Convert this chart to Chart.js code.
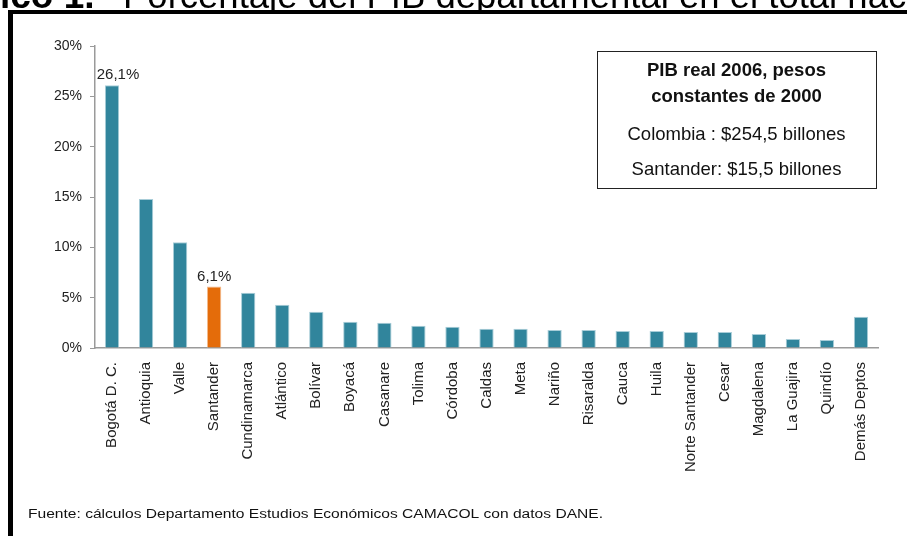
<!DOCTYPE html>
<html lang="es">
<head>
<meta charset="utf-8">
<title>PIB departamental</title>
<script src="https://cdn.jsdelivr.net/npm/chart.js@4/dist/chart.umd.min.js"></script>
<style>
  html, body { margin:0; padding:0; background:#fff; }
  #wrap { position:relative; width:907px; height:536px; overflow:hidden; }
  #chart { position:absolute; left:0; top:0; }
</style>
</head>
<body>
<div id="wrap"><canvas id="chart" width="907" height="536"></canvas></div>
<script>
// ── Participación de cada departamento en el PIB nacional (%) ──
const categories = [
  'Bogotá D. C.','Antioquia','Valle','Santander','Cundinamarca','Atlántico','Bolívar',
  'Boyacá','Casanare','Tolima','Córdoba','Caldas','Meta','Nariño','Risaralda','Cauca',
  'Huila','Norte Santander','Cesar','Magdalena','La Guajira','Quindío','Demás Deptos'
];
const shares = [
  26.1, 14.8, 10.5, 6.1, 5.5, 4.3, 3.6,
  2.6, 2.5, 2.2, 2.1, 1.9, 1.9, 1.8, 1.8, 1.7,
  1.7, 1.6, 1.6, 1.4, 0.9, 0.8, 3.1
];
const highlighted = 'Santander';
const labeledCategories = ['Bogotá D. C.', 'Santander'];
const yMin = 0, yMax = 30, yStep = 5;

const titleBold = 'Gráfico 1.';
const titleRest = 'Porcentaje del PIB departamental en el total nacional';
const boxLines = [
  { text:'PIB real 2006, pesos', bold:true },
  { text:'constantes de 2000', bold:true },
  { text:'Colombia : $254,5 billones', bold:false },
  { text:'Santander: $15,5 billones', bold:false }
];
const sourceNote = 'Fuente: cálculos Departamento Estudios Económicos CAMACOL con datos DANE.';

const TEAL = '#31859C', ORANGE = '#E46C0A';
const FONT = '"Liberation Sans", Arial, sans-serif';
const AXIS = '#9a9a9a';

const pct = v => v.toFixed(1).replace('.', ',') + '%';

// texto de valor sobre las barras destacadas
const valueLabels = {
  id:'valueLabels',
  afterDatasetsDraw(chart) {
    const ctx = chart.ctx;
    const meta = chart.getDatasetMeta(0);
    ctx.save();
    ctx.font = '15px ' + FONT;
    ctx.fillStyle = '#222';
    ctx.textAlign = 'center';
    ctx.textBaseline = 'alphabetic';
    labeledCategories.forEach(name => {
      const i = categories.indexOf(name);
      const bar = meta.data[i];
      ctx.fillText(pct(shares[i]), bar.x + (i === 0 ? 6 : 0), bar.y - 6);
    });
    ctx.restore();
  }
};

// marco, título, recuadro de PIB y fuente
const pageDecor = {
  id:'pageDecor',
  afterDraw(chart) {
    const ctx = chart.ctx;
    ctx.save();

    // título (cortado arriba, sin descendentes bajo el marco)
    ctx.save();
    ctx.beginPath();
    ctx.rect(0, 0, 907, 10);
    ctx.clip();
    ctx.fillStyle = '#000';
    ctx.textBaseline = 'alphabetic';
    ctx.textAlign = 'left';
    ctx.font = 'bold 37px ' + FONT;
    const lead = ctx.measureText('Gráf').width;
    ctx.fillText(titleBold, -lead, 8);
    ctx.font = '36.5px ' + FONT;
    ctx.fillText(titleRest, 123, 8);
    ctx.restore();

    // marco
    ctx.fillStyle = '#000';
    ctx.fillRect(8, 10, 907, 4);
    ctx.fillRect(8, 10, 5, 536);

    // recuadro
    const bx = 597, by = 51, bw = 279, bh = 137;
    ctx.strokeStyle = '#222';
    ctx.lineWidth = 1;
    ctx.strokeRect(bx + 0.5, by + 0.5, bw, bh);
    const baselines = [76, 102, 140, 175];
    ctx.textAlign = 'center';
    ctx.fillStyle = '#111';
    boxLines.forEach((ln, i) => {
      ctx.font = (ln.bold ? 'bold ' : '') + '18.5px ' + FONT;
      ctx.fillText(ln.text, bx + bw / 2, baselines[i]);
    });

    // fuente
    ctx.textAlign = 'left';
    ctx.font = '12px ' + FONT;
    const w = ctx.measureText(sourceNote).width;
    ctx.translate(28, 518);
    ctx.scale(575 / w, 1);
    ctx.fillText(sourceNote, 0, 0);
    ctx.restore();
  }
};

new Chart(document.getElementById('chart'), {
  type:'bar',
  data:{
    labels:categories,
    datasets:[{
      data:shares,
      backgroundColor:categories.map(c => c === highlighted ? ORANGE : TEAL),
      borderColor:categories.map(c => c === highlighted ? '#f3b98a' : '#a8cdd8'),
      borderWidth:{ left:1, right:1, top:1, bottom:0 },
      borderSkipped:'bottom',
      barPercentage:0.42,
      categoryPercentage:1
    }]
  },
  options:{
    responsive:false,
    animation:false,
    layout:{ padding:{ left:0, top:46, right:29, bottom:0 } },
    plugins:{ legend:{display:false}, tooltip:{enabled:false} },
    scales:{
      x:{
        grid:{ display:false },
        border:{ display:true, color:AXIS, width:1.5 },
        ticks:{
          autoSkip:false, maxRotation:90, minRotation:90, padding:6,
          color:'#222', font:{ family:FONT, size:15 }
        },
        afterFit(scale) { scale.height = 188; }
      },
      y:{
        min:yMin, max:yMax,
        grid:{ display:true, drawOnChartArea:false, drawTicks:true, tickLength:5, color:AXIS },
        border:{ display:true, color:AXIS, width:1.5 },
        ticks:{
          stepSize:yStep, padding:8, color:'#222',
          font:{ family:FONT, size:14 },
          callback:v => v + '%'
        },
        afterFit(scale) { scale.width = 95; }
      }
    }
  },
  plugins:[valueLabels, pageDecor]
});
</script>
</body>
</html>
